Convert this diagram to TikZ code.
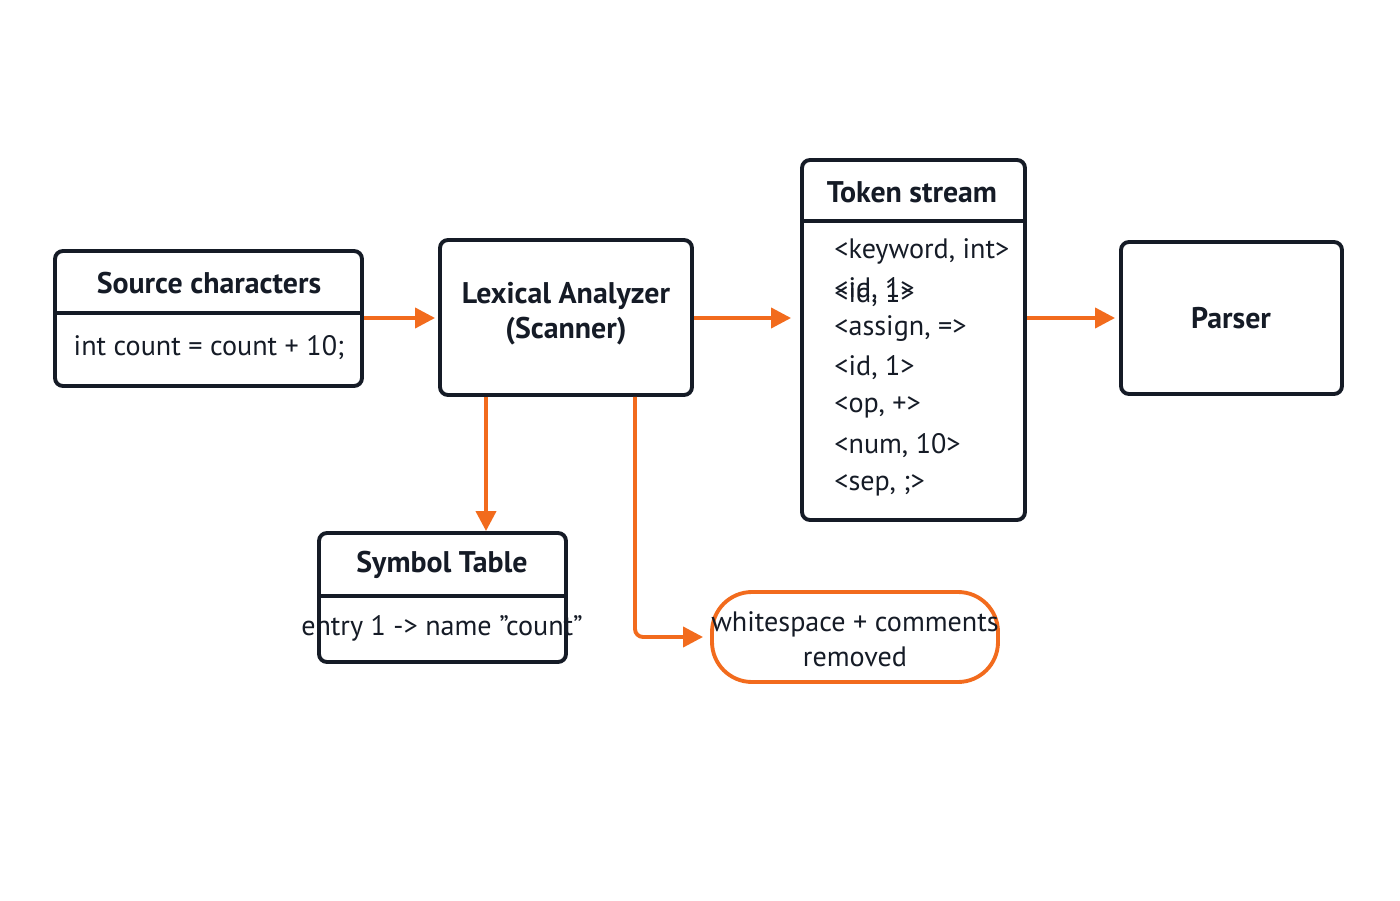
\documentclass[tikz,border=0pt]{standalone}
\usepackage{fontspec}
\setmainfont{PT Sans}
\usetikzlibrary{positioning,arrows.meta}
\definecolor{accent}{HTML}{F26B1D}
\definecolor{ink}{HTML}{151B26}
\tikzset{
  box/.style={draw=ink, line width=1.1pt, rounded corners=0.08cm, inner sep=0pt},
  title/.style={font=\fontsize{8.5}{10}\selectfont\bfseries, text=ink},
  body/.style={font=\fontsize{8}{10}\selectfont, text=ink},
  flow/.style={draw=accent, line width=1.1pt, -{Triangle[length=0.2cm,width=0.2cm]}},
}
\begin{document}
\begin{tikzpicture}
\useasboundingbox (0,0) rectangle (14,9);
% boxes
\node[box, minimum width=3.07cm, minimum height=1.35cm] (src) at (2.085,5.815) {};
\node[box, minimum width=2.52cm, minimum height=1.55cm] (lex) at (5.66,5.825) {};
\node[box, minimum width=2.23cm, minimum height=3.60cm] (tok) at (9.135,5.6) {};
\node[box, minimum width=2.21cm, minimum height=1.52cm] (par) at (12.315,5.82) {};
\node[box, minimum width=2.47cm, minimum height=1.29cm] (sym) at (4.425,3.025) {};
\node[draw=accent, line width=1.1pt, rounded corners=0.4cm, minimum width=2.86cm, minimum height=0.9cm] (ws) at (8.55,2.63) {};
% dividers
\draw[ink, line width=1.1pt] (src.west |- 0,5.87) -- (src.east |- 0,5.87);
\draw[ink, line width=1.1pt] (tok.west |- 0,6.79) -- (tok.east |- 0,6.79);
\draw[ink, line width=1.1pt] (sym.west |- 0,3.04) -- (sym.east |- 0,3.04);
% texts
\node[title] (srct) at (2.09,6.17) {Source characters};
\node[body] (srcb) at (2.09,5.52) {int count = count + 10;};
\node[title, align=center] (lext) at (5.66,5.86) {Lexical Analyzer\\(Scanner)};
\node[title] (tokt) at (9.12,7.08) {Token stream};
\node[body, anchor=west] (t1) at (8.22,6.49) {<keyword, int>};
\node[body, anchor=west, below=0.19cm of t1.west, anchor=north west] (t2) {<id, 1>};
\node[body, anchor=west] (t2) at (8.22,6.10) {<id, 1>};
\node[body, anchor=west] (t3) at (8.22,5.71) {<assign, =>};
\node[body, anchor=west] (t4) at (8.22,5.32) {<id, 1>};
\node[body, anchor=west] (t5) at (8.22,4.93) {<op, +>};
\node[body, anchor=west] (t6) at (8.22,4.54) {<num, 10>};
\node[body, anchor=west] (t7) at (8.22,4.15) {<sep, ;>};
\node[title] (part) at (12.31,5.82) {Parser};
\node[title] (symt) at (4.42,3.35) {Symbol Table};
\node[body] (symb) at (4.42,2.72) {entry 1 -> name "count"};
\node[body, align=center] (wst) at (8.55,2.61) {whitespace + comments\\removed};
% connectors
\draw[flow] (src.east |- 0,5.82) -- ([xshift=-0.03cm]lex.west |- 0,5.82);
\draw[flow] (lex.east |- 0,5.82) -- ([xshift=-0.09cm]tok.west |- 0,5.82);
\draw[flow] (tok.east |- 0,5.82) -- ([xshift=-0.04cm]par.west |- 0,5.82);
\draw[flow] (lex.south -| 4.86,0) -- (sym.north -| 4.86,0);
\draw[flow, rounded corners=0.08cm] (lex.south -| 6.35,0) |- ([xshift=-0.07cm]ws.west);
\end{tikzpicture}
\end{document}
